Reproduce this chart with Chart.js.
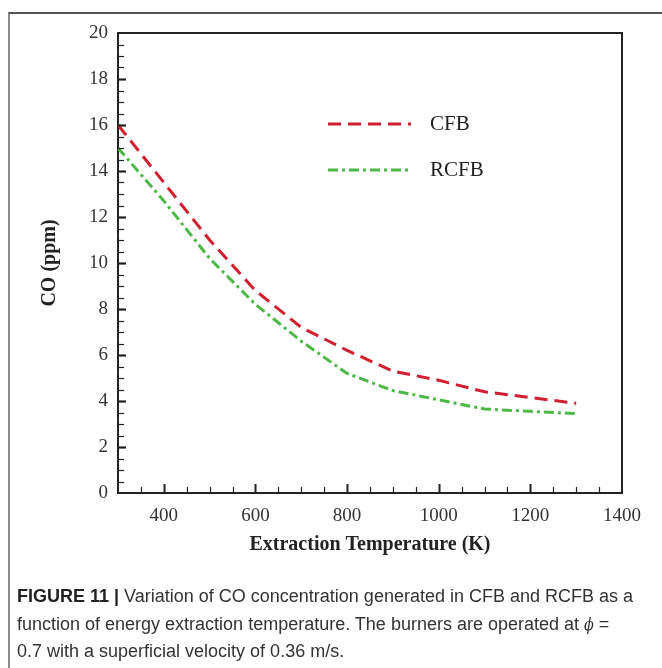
<!DOCTYPE html>
<html>
<head>
<meta charset="utf-8">
<script src="https://cdn.jsdelivr.net/npm/chart.js@4"></script>
<style>
  body { margin: 0; background: #fff; }
  #wrap { position: relative; width: 662px; height: 668px; overflow: hidden; }
  #frame { position: absolute; left: 8px; top: 12px; right: -4px; bottom: -4px;
           border-top: 2px solid #555; border-left: 2px solid #888; }
  #caption { position: absolute; left: 17px; top: 583px; width: 640px;
             font-family: "Liberation Sans Narrow", "Liberation Sans", Arial, sans-serif;
             font-stretch: condensed; font-size: 18px; line-height: 27.5px; color: #333; }
  #caption b { color: #222; }
  #caption i { font-family: "DejaVu Serif", serif; font-size: 16px; }
</style>
</head>
<body>
<div id="wrap">
  <canvas id="chart-area" width="662" height="668"></canvas>
  <div id="frame"></div>
  <div id="caption"><b>FIGURE 11 |</b> Variation of CO concentration generated in CFB and RCFB as a<br>function of energy extraction temperature. The burners are operated at <i>ϕ</i> =<br>0.7 with a superficial velocity of 0.36 m/s.</div>
</div>
<script>
var temps = [300, 400, 500, 600, 700, 800, 900, 1000, 1100, 1200, 1300];
var cfb   = [16.0, 13.5, 11.0, 8.8, 7.2, 6.2, 5.3, 4.9, 4.4, 4.15, 3.9];
var rcfb  = [15.0, 12.7, 10.2, 8.2, 6.6, 5.2, 4.45, 4.05, 3.65, 3.55, 3.45];
var seriesNames = ['CFB', 'RCFB'];

var red = '#d01f2e';
var green = '#4db848';
var serif = '"Liberation Serif", "Times New Roman", serif';

function toPoints(vals) {
    return temps.map(function (t, i) { return {x: t, y: vals[i]}; });
}

// inward ticks, top/right border and the in-plot legend
var frameBits = {
    id: 'frameBits',
    afterDraw: function (chart) {
        var ctx = chart.ctx;
        var a = chart.chartArea;
        var xs = chart.scales.x, ys = chart.scales.y;
        ctx.save();
        ctx.strokeStyle = '#222';
        ctx.lineWidth = 2;
        ctx.beginPath();
        ctx.moveTo(a.left, a.top);
        ctx.lineTo(a.right, a.top);
        ctx.lineTo(a.right, a.bottom);
        ctx.stroke();

        for (var v = 350; v < 1400; v += 50) {
            var px = Math.round(xs.getPixelForValue(v)) + 0.5;
            var len = v % 200 === 0 ? 9 : 6;
            ctx.lineWidth = v % 200 === 0 ? 2 : 1.2;
            ctx.beginPath();
            ctx.moveTo(px, a.bottom);
            ctx.lineTo(px, a.bottom - len);
            ctx.stroke();
        }
        for (var w = 0.5; w < 20; w += 0.5) {
            var py = Math.round(ys.getPixelForValue(w)) + 0.5;
            var major = w % 2 === 0;
            ctx.lineWidth = major ? 2.2 : 1.2;
            ctx.beginPath();
            ctx.moveTo(a.left, py);
            ctx.lineTo(a.left + (major ? 8 : 6), py);
            ctx.stroke();
        }

        // legend
        var ds = chart.data.datasets;
        var rows = [a.top + 91, a.top + 137];
        ctx.font = '21px ' + serif;
        ctx.textBaseline = 'middle';
        for (var i = 0; i < ds.length; i++) {
            ctx.strokeStyle = ds[i].borderColor;
            ctx.lineWidth = 3;
            ctx.setLineDash(ds[i].borderDash);
            ctx.beginPath();
            ctx.moveTo(a.left + 210, rows[i]);
            ctx.lineTo(a.left + 293, rows[i]);
            ctx.stroke();
            ctx.setLineDash([]);
            ctx.fillStyle = '#222';
            ctx.fillText(ds[i].label, a.left + 312, rows[i]);
        }
        ctx.restore();
    }
};

var config = {
    type: 'line',
    data: {
        datasets: [{
            label: seriesNames[0],
            data: toPoints(cfb),
            borderColor: red,
            borderWidth: 3,
            borderDash: [13, 7],
            pointRadius: 0,
            tension: 0,
            fill: false
        }, {
            label: seriesNames[1],
            data: toPoints(rcfb),
            borderColor: green,
            borderWidth: 3,
            borderDash: [10, 4, 3, 4],
            pointRadius: 0,
            tension: 0,
            fill: false
        }]
    },
    options: {
        responsive: false,
        animation: false,
        devicePixelRatio: 1,
        layout: {
            padding: {left: 34, top: 33, right: 40, bottom: 107}
        },
        plugins: {
            legend: {display: false},
            tooltip: {enabled: false}
        },
        scales: {
            x: {
                type: 'linear',
                min: 300,
                max: 1400,
                grid: {display: false, drawTicks: false},
                border: {display: true, color: '#222', width: 2},
                ticks: {
                    stepSize: 200,
                    includeBounds: false,
                    padding: 12,
                    color: '#333',
                    font: {family: serif, size: 19},
                    callback: function (value) { return String(value); }
                },
                title: {
                    display: true,
                    text: 'Extraction Temperature (K)',
                    color: '#222',
                    font: {family: serif, size: 20, weight: 'bold'}
                },
                afterFit: function (scale) { scale.height = 68; }
            },
            y: {
                min: 0,
                max: 20,
                grid: {display: false, drawTicks: false},
                border: {display: true, color: '#222', width: 2},
                ticks: {
                    stepSize: 2,
                    padding: 10,
                    color: '#333',
                    font: {family: serif, size: 19}
                },
                title: {
                    display: true,
                    text: 'CO (ppm)',
                    color: '#222',
                    font: {family: serif, size: 20, weight: 'bold'}
                },
                afterFit: function (scale) { scale.width = 84; }
            }
        }
    },
    plugins: [frameBits]
};

window.onload = function () {
    var ctx = document.getElementById('chart-area').getContext('2d');
    window.myLine = new Chart(ctx, config);
};
</script>
</body>
</html>
